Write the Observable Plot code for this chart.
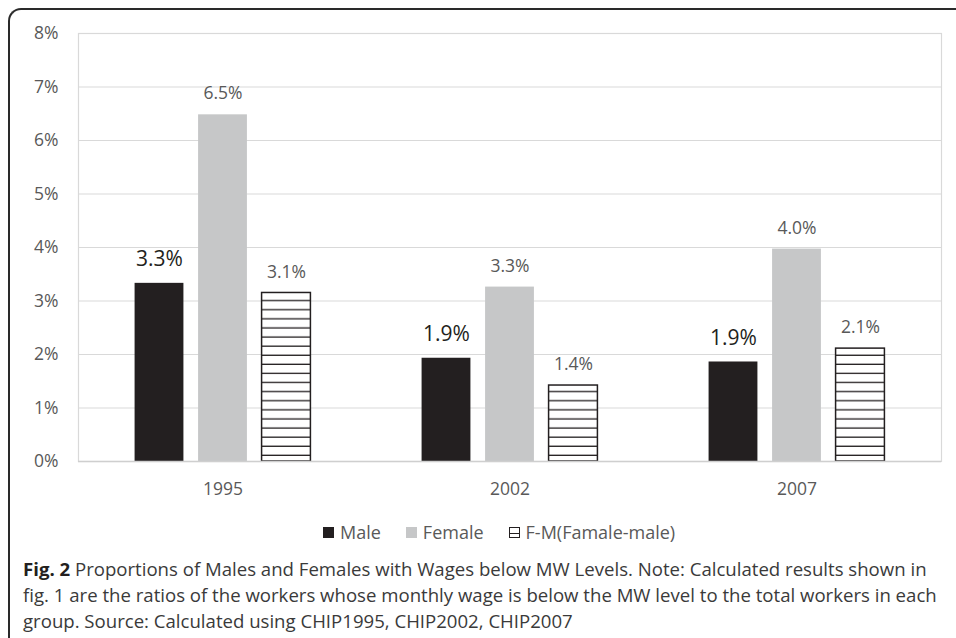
<!DOCTYPE html>
<html>
<head>
<meta charset="utf-8">
<script src="https://cdn.jsdelivr.net/npm/d3@7"></script>
<script src="https://cdn.jsdelivr.net/npm/@observablehq/plot@0.6"></script>
<style>
  html, body { margin: 0; padding: 0; background: #fff; }
  body { width: 956px; height: 638px; position: relative; overflow: hidden; font-family: "Open Sans", sans-serif; }
  #border { position: absolute; left: 8px; top: 8px; width: 980px; height: 660px; border-top: 2px solid #2a2a2a; border-left: 2px solid #2a2a2a; border-top-left-radius: 13px; box-sizing: border-box; }
  #chart { position: absolute; left: 0; top: 0; }
  #legend { position: absolute; left: 323px; top: 520px; display: flex; align-items: center; font-size: 18px; color: #595959; white-space: nowrap; }
  #legend .item { display: flex; align-items: center; margin-right: 25px; }
  #legend .sw { width: 11px; height: 11px; margin-right: 6px; }
  #caption { position: absolute; left: 23px; top: 556px; font-size: 18.6px; line-height: 26px; color: #3a3a3a; white-space: nowrap; }
  #caption b { color: #231f20; }
</style>
</head>
<body>
<div id="border"></div>
<div id="chart"></div>
<div id="legend"></div>
<div id="caption"><b>Fig. 2</b> Proportions of Males and Females with Wages below MW Levels. Note: Calculated results shown in<br>fig. 1 are the ratios of the workers whose monthly wage is below the MW level to the total workers in each<br>group. Source: Calculated using CHIP1995, CHIP2002, CHIP2007</div>
<script>
const years = ["1995", "2002", "2007"];
const seriesNames = ["Male", "Female", "F-M(Famale-male)"];
const male = [0.0333, 0.0193, 0.0186];
const female = [0.0648, 0.0326, 0.0397];
const diff = [0.0315, 0.0142, 0.0211];
const maleLabels = ["3.3%", "1.9%", "1.9%"];
const femaleLabels = ["6.5%", "3.3%", "4.0%"];
const diffLabels = ["3.1%", "1.4%", "2.1%"];
const yTicks = [0, 0.01, 0.02, 0.03, 0.04, 0.05, 0.06, 0.07, 0.08];

const maleData = years.map((y, i) => ({year: y, value: male[i], label: maleLabels[i]}));
const femaleData = years.map((y, i) => ({year: y, value: female[i], label: femaleLabels[i]}));
const diffData = years.map((y, i) => ({year: y, value: diff[i], label: diffLabels[i]}));

const W = 956, H = 505, mL = 78, mR = 15, mT = 33, mB = 44;
const band = (W - mL - mR) / years.length;
const barW = 49.5, step = 63.5;
const outer = (band - barW) / 2 - step;

const defs = () => {
  const d = d3.create("svg:defs");
  const p = d.append("pattern").attr("id", "hatch").attr("patternUnits", "userSpaceOnUse")
    .attr("width", 10).attr("height", 9.1).attr("y", 1);
  p.append("rect").attr("width", 10).attr("height", 9.1).attr("fill", "#fff");
  p.append("rect").attr("y", 7.8).attr("width", 10).attr("height", 1.4).attr("fill", "#231f20");
  return d.node();
};

const chart = Plot.plot({
  width: W, height: H,
  marginLeft: mL, marginRight: mR, marginTop: mT, marginBottom: mB,
  style: {fontFamily: "Open Sans, sans-serif", fontSize: "17.5px", color: "#595959", background: "transparent"},
  x: {domain: years, padding: 0, label: null, tickSize: 0, tickPadding: 21},
  y: {domain: [0, 0.08], ticks: yTicks, tickFormat: d3.format(".0%"), label: null, tickSize: 0, tickPadding: 20},
  marks: [
    defs,
    Plot.gridY(yTicks, {stroke: "#d9d9d9", strokeOpacity: 1, strokeWidth: 1.2}),
    Plot.frame({stroke: "#d9d9d9", strokeWidth: 1.2}),
    Plot.barY(maleData, {x: "year", y: "value", fill: "#231f20", insetLeft: outer, insetRight: band - outer - barW}),
    Plot.barY(femaleData, {x: "year", y: "value", fill: "#c6c7c8", insetLeft: outer + step, insetRight: band - outer - step - barW}),
    Plot.barY(diffData, {x: "year", y: "value", fill: "url(#hatch)", stroke: "#231f20", strokeWidth: 1.5, insetLeft: outer + 2 * step, insetRight: band - outer - 2 * step - barW}),
    Plot.ruleY([0], {stroke: "#cfcfcf", strokeWidth: 1.5}),
    Plot.text(maleData, {x: "year", y: "value", text: "label", dx: -step, dy: -24, fill: "#231f20", fontSize: 21}),
    Plot.text(femaleData, {x: "year", y: "value", text: "label", dy: -21, fill: "#595959", fontSize: 17.5}),
    Plot.text(diffData, {x: "year", y: "value", text: "label", dx: step, dy: -21, fill: "#595959", fontSize: 17.5})
  ]
});
document.getElementById("chart").appendChild(chart);

// Legend
const legend = d3.select("#legend");
const swatches = [
  s => s.style("background", "#231f20"),
  s => s.style("background", "#c6c7c8"),
  s => s.style("border", "1.5px solid #231f20").style("box-sizing", "border-box")
        .style("background", "linear-gradient(to bottom, #fff 0, #fff 55%, #231f20 55%, #231f20 72%, #fff 72%)")
];
seriesNames.forEach((name, i) => {
  const item = legend.append("div").attr("class", "item");
  swatches[i](item.append("div").attr("class", "sw"));
  item.append("span").text(name);
});
</script>
</body>
</html>
